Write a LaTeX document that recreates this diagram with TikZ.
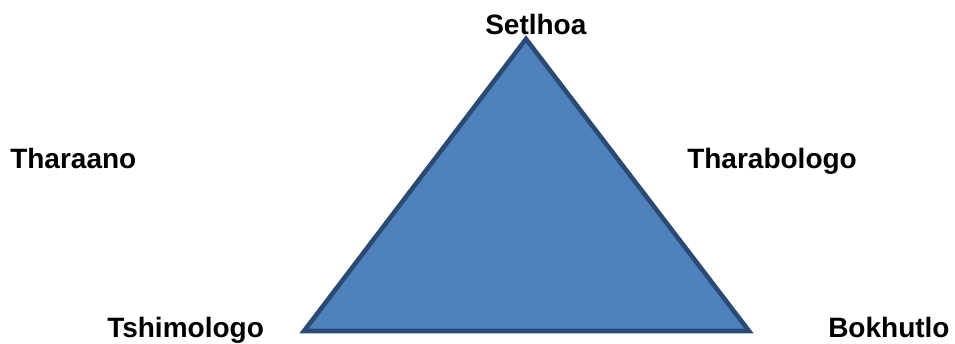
\documentclass[tikz,border=0pt]{standalone}
\usepackage{fontspec}
\setmainfont{Liberation Sans}
\usepackage{xcolor}
\definecolor{triblue}{HTML}{4F81BD}
\definecolor{triedge}{HTML}{2A4A73}
\tikzset{
  lbl/.style={font=\bfseries\fontsize{21}{24}\selectfont, inner sep=0pt, anchor=base west}
}
\begin{document}
\begin{tikzpicture}[x=0.75pt, y=-0.75pt]
          \useasboundingbox (0,0) rectangle (955,343);
          \coordinate (top) at (526,39); \coordinate (bl) at (304,331); \coordinate (br) at (749,331);
          \draw[triedge, fill=triblue, line width=3.4pt] (bl) -- (br) -- (top) -- cycle;
          \node[lbl] (setlhoa) at (485,34) {Setlhoa};
          \node[lbl] (tharaano) at (10,168) {Tharaano};
          \node[lbl] (tharabologo) at (687,168) {Tharabologo};
          \node[lbl] (tshimologo) at (107,337) {Tshimologo};
          \node[lbl] (bokhutlo) at (828,337) {Bokhutlo};
        \end{tikzpicture}
\end{document}
